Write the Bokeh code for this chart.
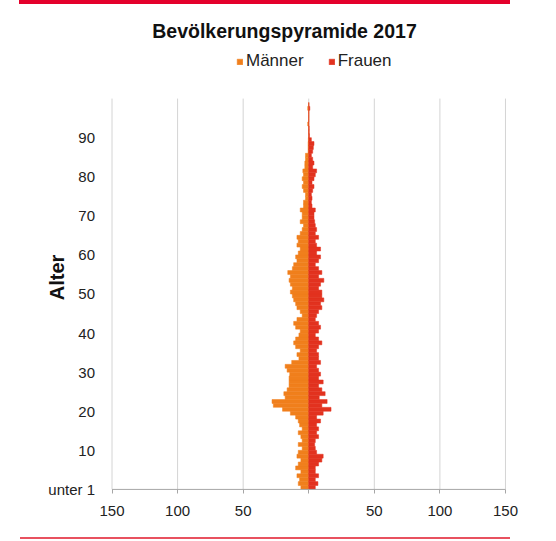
import math
from bokeh.plotting import figure
from bokeh.models import (FixedTicker, Legend, LegendItem, Div, ColumnDataSource,
                          Range1d, Label)
from bokeh.layouts import column
from bokeh.embed import file_html
from bokeh.resources import INLINE

# ---------------- data ----------------
ages = list(range(99))
men = [6, 8, 7, 9, 6, 10, 8, 6, 9, 8,
       5, 8, 5, 6, 8, 5, 7, 8, 10, 14,
       20, 27, 28, 18, 19, 16.5, 15, 15, 15, 14.5,
       16.5, 18, 13, 7.5, 9, 6.5, 10, 11.5, 10, 7.5,
       6.5, 10, 11.5, 9, 5, 6.5, 9, 10, 11.5, 12.5,
       14, 12.5, 14, 15, 14, 16, 12.5, 11.5, 9, 10,
       8, 6.5, 9, 8, 9, 6.5, 5, 4, 6.5, 5,
       5, 6.5, 4, 4, 2.5, 2.5, 4, 5, 4, 5,
       4, 4.5, 3, 3, 2.5, 2.5, 0.5, 0.5, 0.5, 0.3,
       0, 0, 0, 0.8, 0, 0, 0, 0.8, 0]
women = [5, 7, 5, 7.5, 5, 5, 7.5, 10, 11, 6,
         5, 4.5, 5, 7.5, 6, 7.5, 6, 9, 6, 11,
         17, 10, 14, 8, 12.5, 10, 7.5, 11, 7.5, 9,
         7.5, 6, 9, 7.5, 7.5, 6, 7.5, 10, 7.5, 5,
         7.5, 9, 7.5, 5, 6, 7.5, 10, 9, 11.5, 10,
         10, 7.5, 9, 11.5, 7.5, 10, 7.5, 5, 7.5, 9,
         6, 9, 6, 5, 7.5, 5, 6, 5, 4.5, 4,
         4, 5, 2.5, 2, 2.5, 2, 3, 4, 2.5, 4,
         5, 6, 3, 4, 3, 2, 3, 3.5, 4, 2,
         0.5, 0.3, 0.3, 0, 0, 0, 0, 0.8, 0]

x_ticks = [-150, -100, -50, 0, 50, 100, 150]
x_tick_labels = ["150", "100", "50", "", "50", "100", "150"]
y_ticks = [0, 10, 20, 30, 40, 50, 60, 70, 80, 90]
y_tick_labels = ["unter 1", "10", "20", "30", "40", "50", "60", "70", "80", "90"]
age_max = 100

title_text = "Bevölkerungspyramide 2017"
series_names = ["Männer", "Frauen"]
axis_title = "Alter"

# ---------------- style ----------------
ORANGE = "#f07f1c"
RED = "#e2321f"
FONT = "Liberation Sans"

src = ColumnDataSource(dict(
    y=[a + 0.5 for a in ages],
    men_left=[-m for m in men],
    women=women,
))

# frame spans the whole drawing area; axes are pinned at x=-150 and y=0
p = figure(width=556, height=530, x_range=Range1d(-227.4, 176.7), y_range=Range1d(-10, 121),
           output_backend="svg", toolbar_location=None,
           min_border_left=10, min_border_right=16, min_border_top=12,
           min_border_bottom=6)
p.outline_line_color = None
p.background_fill_color = "white"
p.xgrid.grid_line_color = None
p.ygrid.grid_line_color = None

# vertical grid lines (incl. the left axis line), limited to the age range
p.segment(x0=x_ticks, y0=[0] * len(x_ticks), x1=x_ticks, y1=[age_max] * len(x_ticks),
          line_color="#d4d4d4", line_width=1)

r_m = p.hbar(y="y", left="men_left", right=0, height=1, source=src,
             fill_color=ORANGE, line_color=ORANGE, line_width=0.5)
r_w = p.hbar(y="y", left=0, right="women", height=1, source=src,
             fill_color=RED, line_color=RED, line_width=0.5)

# category axis line along the bottom
p.segment(x0=[x_ticks[0]], y0=[0], x1=[x_ticks[-1]], y1=[0],
          line_color="#a6a6a6", line_width=1)

# x axis, pinned at y = 0
xa = p.xaxis[0]
xa.fixed_location = 0
xa.ticker = FixedTicker(ticks=x_ticks)
xa.major_label_overrides = {t: l for t, l in zip(x_ticks, x_tick_labels)}
xa.minor_tick_line_color = None
xa.major_tick_out = 4
xa.major_tick_in = 0
xa.major_tick_line_color = "#a6a6a6"
xa.axis_line_color = None
xa.major_label_text_font = FONT
xa.major_label_text_font_size = "15px"
xa.major_label_text_color = "#222222"
xa.major_label_standoff = 13

# y axis, pinned at x = -150
ya = p.yaxis[0]
ya.fixed_location = x_ticks[0]
ya.ticker = FixedTicker(ticks=y_ticks)
ya.major_label_overrides = {t: l for t, l in zip(y_ticks, y_tick_labels)}
ya.minor_tick_line_color = None
ya.major_tick_out = 0
ya.major_tick_in = 0
ya.axis_line_color = None
ya.major_label_text_font = FONT
ya.major_label_text_font_size = "15px"
ya.major_label_text_color = "#222222"
ya.major_label_standoff = 17

# axis title (screen units are relative to the frame's bottom-left corner)
p.add_layout(Label(x=46, y=251, x_units="screen", y_units="screen", text=axis_title,
                   angle=math.pi / 2, text_align="center", text_baseline="middle",
                   text_font=FONT, text_font_size="20px", text_font_style="bold",
                   text_color="#111111"))

# chart title
p.add_layout(Label(x=274, y=498, x_units="screen", y_units="screen", text=title_text,
                   text_align="center", text_baseline="middle", text_font=FONT,
                   text_font_size="19.5px", text_font_style="bold", text_color="#111111"))

# legend
legend = Legend(items=[LegendItem(label=series_names[0], renderers=[r_m]),
                       LegendItem(label=series_names[1], renderers=[r_w])],
                orientation="horizontal", location=(226, 457),
                glyph_width=7, glyph_height=7, label_standoff=3, spacing=24,
                label_height=17, padding=0, margin=0, border_line_color=None,
                background_fill_alpha=0, label_text_font=FONT,
                label_text_font_size="17px", label_text_color="#222222")
p.add_layout(legend, "center")

top_line = Div(width=491, height=4, margin=(0, 0, 0, 19),
               styles={"background-color": "#e4002b"})
bottom_line = Div(width=490, height=2, margin=(3, 0, 0, 20),
                  styles={"background-color": "#e8515f"})

layout = column(top_line, p, bottom_line, spacing=0)

open("out.html", "w").write(file_html(layout, INLINE))
